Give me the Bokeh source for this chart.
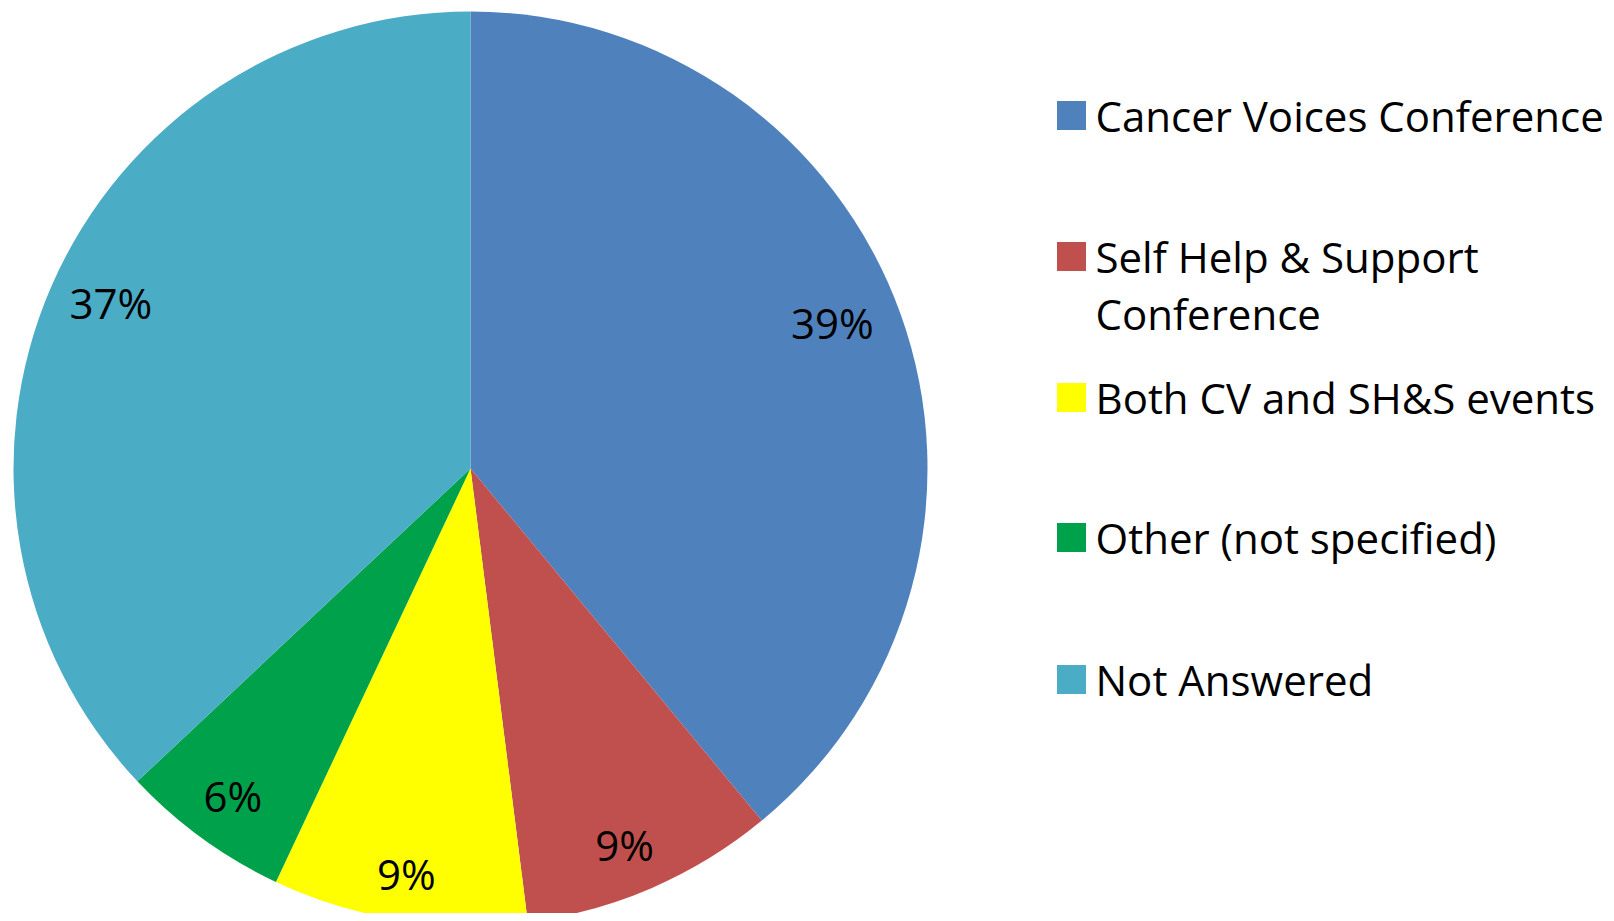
import math
from bokeh.plotting import figure
from bokeh.models import Range1d, ColumnDataSource
from bokeh.core.properties import value
from bokeh.embed import file_html
from bokeh.resources import INLINE

# ---- data ----
categories = ["Cancer Voices Conference", "Self Help & Support\nConference",
              "Both CV and SH&S events", "Other (not specified)", "Not Answered"]
percents = [39, 9, 9, 6, 37]
pct_labels = ["39%", "9%", "9%", "6%", "37%"]

# ---- styles / layout ----
colors = ["#4F81BD", "#C0504D", "#FFFF00", "#00A14B", "#4BACC6"]
label_r_frac = [0.854, 0.889, 0.897, 0.885, 0.867]
label_ang_nudge = [-2.2, 1.1, 0.0, 0.0, 1.4]   # degrees
W, H = 1606, 913
CX, CY, R = 470, 468, 457          # reference pixel coords (y downward)
FONT = value("Open Sans")
FS = 42

p = figure(width=W, height=H, output_backend="svg", toolbar_location=None,
           x_range=Range1d(0, W), y_range=Range1d(-H, 0),
           min_border=0)
p.axis.visible = False
p.grid.visible = False
p.outline_line_color = None
p.background_fill_color = "white"
p.border_fill_color = "white"

total = sum(percents)
starts, ends, lx, ly = [], [], [], []
cum = 0.0
for i, v in enumerate(percents):
    a0 = cum / total * 2 * math.pi
    cum += v
    a1 = cum / total * 2 * math.pi
    starts.append(math.pi / 2 - a1)
    ends.append(math.pi / 2 - a0)
    mid = (a0 + a1) / 2 + math.radians(label_ang_nudge[i])
    d = R * label_r_frac[i]
    lx.append(CX + d * math.sin(mid))
    ly.append(-(CY - d * math.cos(mid)))

src = ColumnDataSource(dict(start=starts, end=ends, color=colors,
                            lx=lx, ly=ly, lab=pct_labels))
p.wedge(x=CX, y=-CY, radius=R, start_angle="start", end_angle="end",
        direction="anticlock", fill_color="color", line_color=None, source=src)
p.text(x="lx", y="ly", text="lab", source=src, text_font=FONT,
       text_font_size=f"{FS}px", text_align="center",
       text_baseline="middle", text_color="black")

# legend
row_y = [115, 256, 397, 537, 679]
line_gap = 57
sq_x, sq = 1071, 29
tx = 1095
sx, sy, txs, tys, tts = [], [], [], [], []
for i, cat in enumerate(categories):
    sx.append(sq_x)
    sy.append(-row_y[i])
    for j, line in enumerate(cat.split("\n")):
        txs.append(tx)
        tys.append(-(row_y[i] + j * line_gap))
        tts.append(line)
p.rect(x=sx, y=sy, width=sq, height=sq, fill_color=colors, line_color=None)
p.text(x=txs, y=tys, text=tts, text_font=FONT, text_font_size=f"{FS}px",
       text_align="left", text_baseline="middle", text_color="black")

open("out.html", "w").write(file_html(p, INLINE))
